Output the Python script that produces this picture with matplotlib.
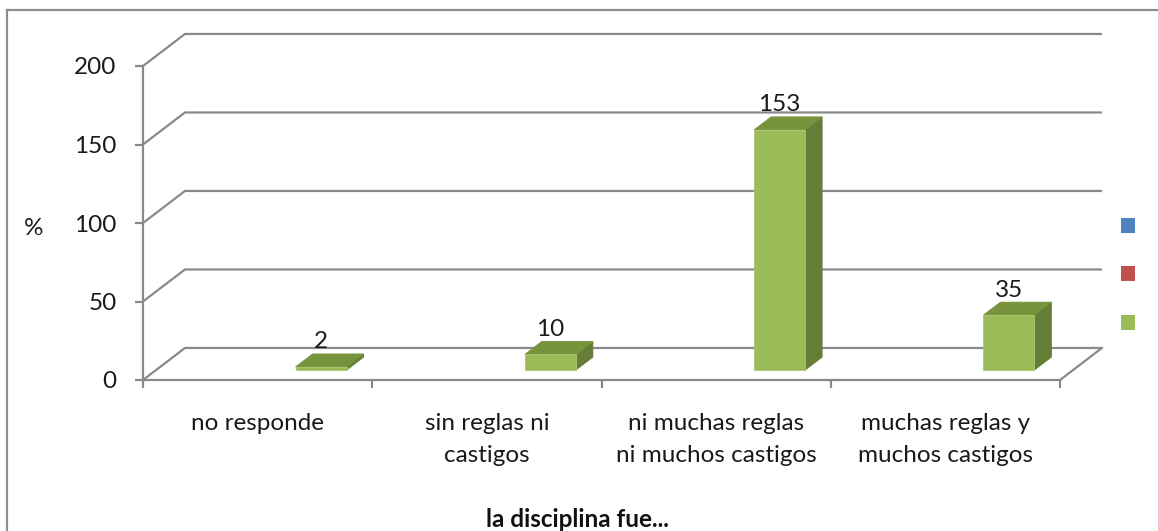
import numpy as np
import matplotlib
matplotlib.use("Agg")
import matplotlib.pyplot as plt
from matplotlib.patches import Polygon, Rectangle
from matplotlib.lines import Line2D


categories = [
    "no responde",
    "sin reglas ni\ncastigos",
    "ni muchas reglas\nni muchos castigos",
    "muchas reglas y\nmuchos castigos",
]
values = [2, 10, 153, 35]
y_ticks = [0, 50, 100, 150, 200]
legend_colors = ["#4F81BD", "#C0504D", "#9BBB59"]

plt.rcParams["font.family"] = ["Lato", "DejaVu Sans"]

FRONT = "#9BBB59"
SIDE = "#657D37"
TOP = "#77933C"
GRID = "#898989"

# fake 3d depth, in data units (categories / value)
DX = 0.183
DY = 20.4
F0 = 0.31       # depth where bar front sits
F1 = 0.715      # depth where bar back sits
OFF = 0.609     # bar left edge inside category (third series slot)
W = 0.2225      # bar width

fig = plt.figure(figsize=(11.58, 5.31), dpi=100)
ax = fig.add_axes([143 / 1158, 151 / 531, 917 / 1158, 314 / 531])

n = len(categories)
ax.set_xlim(0, n)
ax.set_ylim(0, 200)

# walls / gridlines
for v in y_ticks:
    ax.plot([0, DX, n + DX], [v, v + DY, v + DY], color=GRID, lw=1.6,
            clip_on=False, zorder=1, solid_capstyle="butt")
ax.plot([n, n + DX], [0, DY], color=GRID, lw=1.6, clip_on=False, zorder=1)

# bars
for i, v in enumerate(values):
    x0 = i + OFF + F0 * DX
    y0 = F0 * DY
    x1 = x0 + W
    y1 = v + F0 * DY
    ddx = (F1 - F0) * DX
    ddy = (F1 - F0) * DY
    front = Polygon([(x0, y0), (x1, y0), (x1, y1), (x0, y1)],
                    closed=True, facecolor=FRONT, edgecolor="#A9C66C",
                    lw=0.6, zorder=3, clip_on=False)
    side = Polygon([(x1, y0), (x1 + ddx, y0 + ddy), (x1 + ddx, y1 + ddy), (x1, y1)],
                   closed=True, facecolor=SIDE, edgecolor=SIDE,
                   lw=0.6, zorder=3, clip_on=False)
    top = Polygon([(x0, y1), (x1, y1), (x1 + ddx, y1 + ddy), (x0 + ddx, y1 + ddy)],
                  closed=True, facecolor=TOP, edgecolor=TOP,
                  lw=0.6, zorder=3, clip_on=False)
    ax.add_patch(side)
    ax.add_patch(top)
    ax.add_patch(front)
    ax.annotate(str(v), xy=(x0 + W / 2, y1 + ddy), xytext=(0, 4),
                textcoords="offset points", ha="center", va="baseline",
                fontsize=17.5, color="#1a1a1a", annotation_clip=False)

for s in ["top", "right"]:
    ax.spines[s].set_visible(False)
for s in ["left", "bottom"]:
    ax.spines[s].set_color(GRID)
    ax.spines[s].set_linewidth(1.6)

ax.set_yticks(y_ticks)
ax.tick_params(axis="y", direction="out", length=6, width=1.6, color=GRID,
               pad=13, labelsize=17.5, labelcolor="#1a1a1a")
ax.set_xticks(np.arange(n + 1))
ax.set_xticklabels([])
ax.set_xticks(np.arange(n) + 0.5, minor=True)
ax.set_xticklabels(categories, minor=True)
ax.tick_params(axis="x", which="major", direction="out", length=6,
               width=1.6, color=GRID)
ax.tick_params(axis="x", which="minor", length=0, pad=24, labelsize=17.5,
               labelcolor="#1a1a1a")
for t in ax.get_xticklabels(minor=True):
    t.set_linespacing(1.6)

ax.set_ylabel("%", rotation=0, fontsize=17.5, color="#1a1a1a",
              ha="center", va="center")
ax.yaxis.set_label_coords(-0.119, 0.484)
ax.set_xlabel("la disciplina fue...", fontsize=17.5, fontweight="bold",
              color="#111111", ha="center", va="center")
ax.xaxis.set_label_coords(0.474, -0.443)

# legend keys without text
for k, c in enumerate(legend_colors):
    yc = 531 - (225 + 48.5 * k)
    fig.add_artist(Rectangle((1121 / 1158, (yc - 7.5) / 531), 14 / 1158, 15 / 531,
                             transform=fig.transFigure, facecolor=c,
                             edgecolor="none"))

# chart border (top and left edges visible)
fig.add_artist(Line2D([7 / 1158, 7 / 1158], [0, 1 - 10 / 531],
                      transform=fig.transFigure, color="#8E8E8E", lw=1.6))
fig.add_artist(Line2D([7 / 1158, 1], [1 - 10 / 531, 1 - 10 / 531],
                      transform=fig.transFigure, color="#8E8E8E", lw=1.6))

fig.savefig("out.png", dpi=100)
plt.close(fig)
